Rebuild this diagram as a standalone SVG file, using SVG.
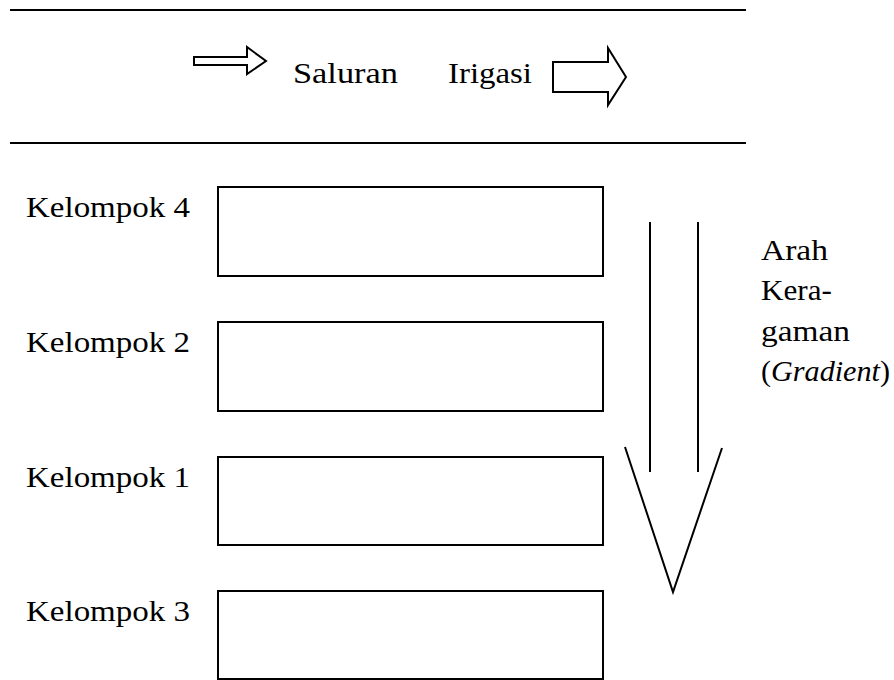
<svg xmlns="http://www.w3.org/2000/svg" width="894" height="680" viewBox="0 0 894 680">
<style>
.t{font-family:"Liberation Serif","DejaVu Serif",serif;font-size:29px;fill:#000}
.ln{stroke:#000;stroke-width:2;fill:none}
.bx{stroke:#000;stroke-width:2;fill:#fff}
</style>
<rect width="894" height="680" fill="#fff"/>
<g id="channel">
<line class="ln" x1="10" y1="10" x2="746" y2="10"/>
<line class="ln" x1="10" y1="143" x2="746" y2="143"/>
<polygon class="ln" stroke-width="1.6" points="194,57 247,57 247,47 266,61 247,74 247,65 194,65"/>
<text class="t" x="293" y="83" textLength="105" lengthAdjust="spacingAndGlyphs">Saluran</text>
<text class="t" x="448" y="83" textLength="84" lengthAdjust="spacingAndGlyphs">Irigasi</text>
<polygon class="ln" stroke-width="1.6" points="553,62 608,62 608,48 626,77 608,105 608,92 553,92"/>
</g>
<g id="kelompok4">
<text class="t" x="26" y="217" textLength="164" lengthAdjust="spacingAndGlyphs">Kelompok 4</text>
<rect class="bx" x="218" y="187" width="385" height="89"/>
</g>
<g id="kelompok2">
<text class="t" x="26" y="352" textLength="164" lengthAdjust="spacingAndGlyphs">Kelompok 2</text>
<rect class="bx" x="218" y="322" width="385" height="89"/>
</g>
<g id="kelompok1">
<text class="t" x="26" y="487" textLength="164" lengthAdjust="spacingAndGlyphs">Kelompok 1</text>
<rect class="bx" x="218" y="457" width="385" height="88"/>
</g>
<g id="kelompok3">
<text class="t" x="26" y="621" textLength="164" lengthAdjust="spacingAndGlyphs">Kelompok 3</text>
<rect class="bx" x="218" y="591" width="385" height="88"/>
</g>
<g id="connectors">
<line class="ln" x1="650" y1="222" x2="650" y2="472"/>
<line class="ln" x1="698" y1="222" x2="698" y2="472"/>
<polyline class="ln" points="625,447 673,592 722,448"/>
</g>
<g id="gradient-label">
<text class="t" x="761" y="260" textLength="67" lengthAdjust="spacingAndGlyphs">Arah</text>
<text class="t" x="761" y="300" textLength="71" lengthAdjust="spacingAndGlyphs">Kera-</text>
<text class="t" x="761" y="341" textLength="89" lengthAdjust="spacingAndGlyphs">gaman</text>
<text class="t" x="761" y="381" textLength="129" lengthAdjust="spacingAndGlyphs">(<tspan font-style="italic">Gradient</tspan>)</text>
</g>
</svg>
